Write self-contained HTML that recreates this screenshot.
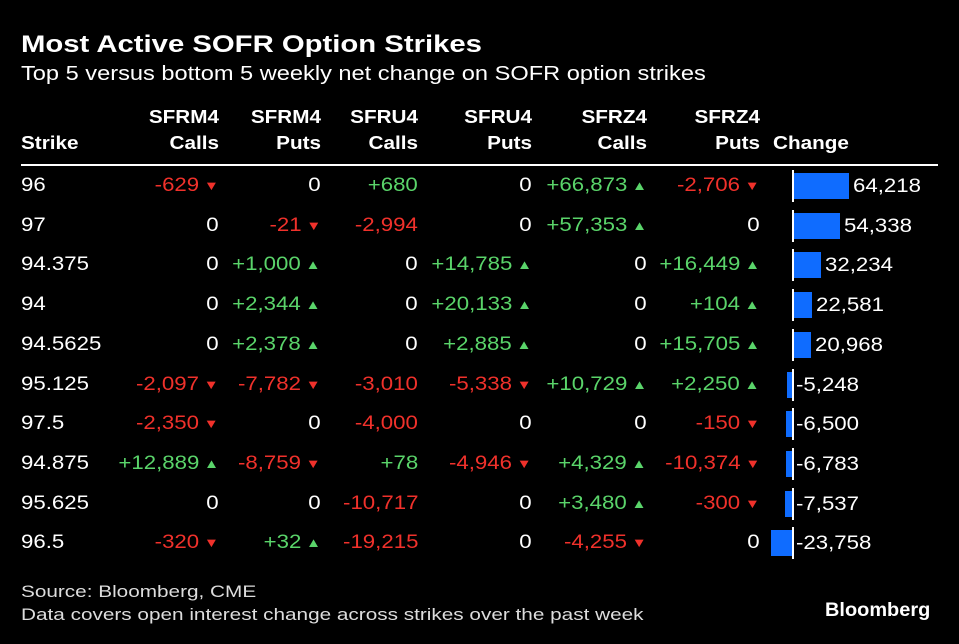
<!DOCTYPE html>
<html><head><meta charset="utf-8"><style>
body{margin:0;background:#000;width:959px;height:644px;overflow:hidden;font-family:"Liberation Sans",Arial,sans-serif;color:#fff;position:relative}
.a{position:absolute;white-space:nowrap}
.h{font-weight:bold;font-size:18px;line-height:26px;text-align:right;transform:scaleX(1.15);transform-origin:right center}
.hl{transform-origin:left center}
.c{font-size:19px;line-height:24px;transform:scaleX(1.17);transform-origin:right center}
.cl{transform-origin:left center}
.r{color:#f0312b}.g{color:#5ad46a}
.ar{font-size:13px;margin-left:4px;position:relative;top:-1px}
</style></head><body>
<div class="a" style="left:21px;top:31px;font-size:24px;font-weight:bold;transform:scaleX(1.22);transform-origin:left center">Most Active SOFR Option Strikes</div>
<div class="a" style="left:21px;top:63px;font-size:20px;transform:scaleX(1.18);transform-origin:left center">Top 5 versus bottom 5 weekly net change on SOFR option strikes</div>
<div class="a" style="left:21px;top:164px;width:917px;height:2px;background:#fff"></div>
<div id="tbl"></div>
<div class="a" style="left:21px;top:582px;font-size:17px;color:#ddd;transform:scaleX(1.22);transform-origin:left center">Source: Bloomberg, CME</div>
<div class="a" style="left:21px;top:605px;font-size:17px;color:#ddd;transform:scaleX(1.22);transform-origin:left center">Data covers open interest change across strikes over the past week</div>
<div class="a" style="left:825px;top:600px;font-size:19px;font-weight:bold;transform:scaleX(1.05);transform-origin:left center">Bloomberg</div>
<script>
const strikes=["96","97","94.375","94","94.5625","95.125","97.5","94.875","95.625","96.5"];
const headers1=["SFRM4","SFRM4","SFRU4","SFRU4","SFRZ4","SFRZ4"];
const headers2=["Calls","Puts","Calls","Puts","Calls","Puts"];
const sfrm4Calls=[-629,0,0,0,0,-2097,-2350,12889,0,-320];
const sfrm4Puts=[0,-21,1000,2344,2378,-7782,0,-8759,0,32];
const sfru4Calls=[680,-2994,0,0,0,-3010,-4000,78,-10717,-19215];
const sfru4Puts=[0,0,14785,20133,2885,-5338,0,-4946,0,0];
const sfrz4Calls=[66873,57353,0,0,0,10729,0,4329,3480,-4255];
const sfrz4Puts=[-2706,0,16449,104,15705,2250,-150,-10374,-300,0];
const changes=[64218,54338,32234,22581,20968,-5248,-6500,-6783,-7537,-23758];
const cols=[sfrm4Calls,sfrm4Puts,sfru4Calls,sfru4Puts,sfrz4Calls,sfrz4Puts];
const colRight=[219,321,418,532,647,760];
const colArrows=[true,true,false,true,true,true];
const t=document.getElementById('tbl');
const rowY=i=>174+i*39.7;
const x0=792,k=57/64218;
const xs=v=>x0+v*k;
function add(html,cls,style,name){const d=document.createElement('div');d.className='a '+cls;d.style.cssText=style;d.innerHTML=html;


t.appendChild(d);return d;}
add('Strike','h hl','left:21px;top:130px;text-align:left','header-strike');
headers1.forEach((h,j)=>{add(h+'<br>'+headers2[j],'h','right:'+(959-colRight[j])+'px;top:104px','header-'+h.toLowerCase()+'-'+headers2[j].toLowerCase());});
add('Change','h hl','left:773px;top:130px;text-align:left','header-change');
const fmt=v=>(v>0?'+':'')+v.toLocaleString('en-US');
strikes.forEach((s,i)=>{
 const y=rowY(i);
 add(s,'c cl','left:21px;top:'+y+'px','strike-label');
 cols.forEach((c,j)=>{const v=c[i];let h,cl='';
  if(v===0){h='0';}else{cl=v>0?'g':'r';h=fmt(v)+(colArrows[j]?'<span class="ar">'+(v>0?'▲':'▼')+'</span>':'');}
  add(h,'c '+cl,'right:'+(959-colRight[j])+'px;top:'+y+'px;text-align:right','cell-value');});
 const v=changes[i];const xa=Math.min(xs(v),x0),xb=Math.max(xs(v),x0);
 add('','','left:'+xa+'px;top:'+(y-1)+'px;width:'+(xb-xa)+'px;height:26px;background:#0f6cff','change-bar');
 add('','','left:'+x0+'px;top:'+(y-4)+'px;width:1.5px;height:32px;background:#fff','zero-axis');
 add(changes[i].toLocaleString('en-US'),'c cl','left:'+(Math.max(xs(v),x0)+4)+'px;top:'+(y+1)+'px','change-value');
});
</script>
</body></html>
